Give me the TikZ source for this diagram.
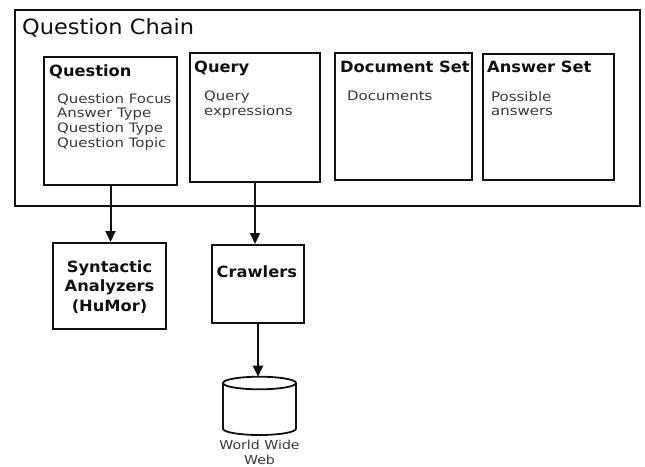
\documentclass[tikz,border=0pt]{standalone}
\usepackage{fontspec}
\setmainfont{DejaVu Sans}
\newfontfamily\titlefont{DejaVu Sans}[FakeStretch=1.07]
\newfontfamily\headfont{DejaVu Sans}[FakeStretch=1.05]
\newfontfamily\bodyfont{DejaVu Sans}[FakeStretch=1.15]
\usetikzlibrary{arrows.meta}
\definecolor{ink}{HTML}{111111}
\definecolor{bodyink}{HTML}{3A3A3A}
\tikzset{
  box/.style={draw=ink, line width=2pt, rectangle, inner sep=0pt},
  chainbox/.style={draw=ink, line width=1.5pt, rectangle, inner sep=0pt},
  head/.style={anchor=base west, inner sep=0pt, text=ink, font=\headfont\bfseries\fontsize{15.5}{18}\selectfont},
  body/.style={anchor=north west, inner sep=0pt, text=bodyink, align=left,
    font=\bodyfont\fontsize{13}{14.8}\selectfont},
  centerhead/.style={inner sep=0pt, text=ink, align=center,
    font=\headfont\bfseries\fontsize{15.5}{19.5}\selectfont},
  arr/.style={draw=ink, line width=2pt, -{Triangle[length=11pt,width=10pt]}},
}
\begin{document}
\begin{tikzpicture}[x=1pt, y=-1pt]
  \useasboundingbox (0,0) rectangle (645,466);
  \fill[white] (0,0) rectangle (645,466);

  % outer container
  \node[chainbox, minimum width=625pt, minimum height=196pt] (chain) at (327.5,108) {};
  \node[anchor=base west, inner sep=0pt, text=ink,
    font=\titlefont\fontsize{21}{24}\selectfont] (chaintitle) at (22,34) {Question Chain};

  % the four parts of the chain
  \node[box, minimum width=133pt, minimum height=128pt] (question) at (110.5,121) {};
  \node[box, minimum width=130pt, minimum height=129pt] (query) at (255,117.5) {};
  \node[box, minimum width=137pt, minimum height=127pt] (docset) at (403.5,116.5) {};
  \node[box, minimum width=131pt, minimum height=126pt] (ansset) at (548.5,116.5) {};

  \node[head] (questionhead) at (49,76) {Question};
  \node[body] (questionbody) at (57,93) {Question Focus\\Answer Type\\Question Type\\Question Topic};

  \node[head] (queryhead) at (194,72) {Query};
  \node[body] (querybody) at (204,91) {Query\\expressions};

  \node[head] (docsethead) at (340,72) {Document Set};
  \node[body] (docsetbody) at (347,91) {Documents};

  \node[head] (anssethead) at (487,72) {Answer Set};
  \node[body] (anssetbody) at (491,91) {Possible\\answers};

  % processing components
  \node[box, minimum width=113pt, minimum height=86pt] (syn) at (109.5,286) {};
  \node[centerhead] (syntext) at (109.5,287) {Syntactic\\Analyzers\\(HuMor)};

  \node[box, minimum width=92pt, minimum height=78pt] (crawl) at (258,284) {};
  \node[head] (crawltext) at (216.5,277) {Crawlers};

  % the web as a storage cylinder
  \coordinate (webtop) at (259.5,376.7);
  \draw[ink, line width=1.8pt]
    (259.5,383) ellipse [x radius=36.5pt, y radius=6.3pt];
  \draw[ink, line width=1.8pt]
    (223,383) -- (223,428.7) arc[start angle=180, end angle=360, x radius=36.5pt, y radius=6.3pt]
    -- (296,383);
  \node[inner sep=0pt, text=bodyink, align=center,
    font=\bodyfont\fontsize{12.3}{15}\selectfont] (webtext) at (259.5,452) {World Wide\\Web};

  % connectors
  \draw[arr] (question.south) -- (question.south |- syn.north);
  \draw[arr] (query.south) -- (query.south |- crawl.north);
  \draw[arr] (crawl.south) -- (crawl.south |- webtop);
\end{tikzpicture}
\end{document}
